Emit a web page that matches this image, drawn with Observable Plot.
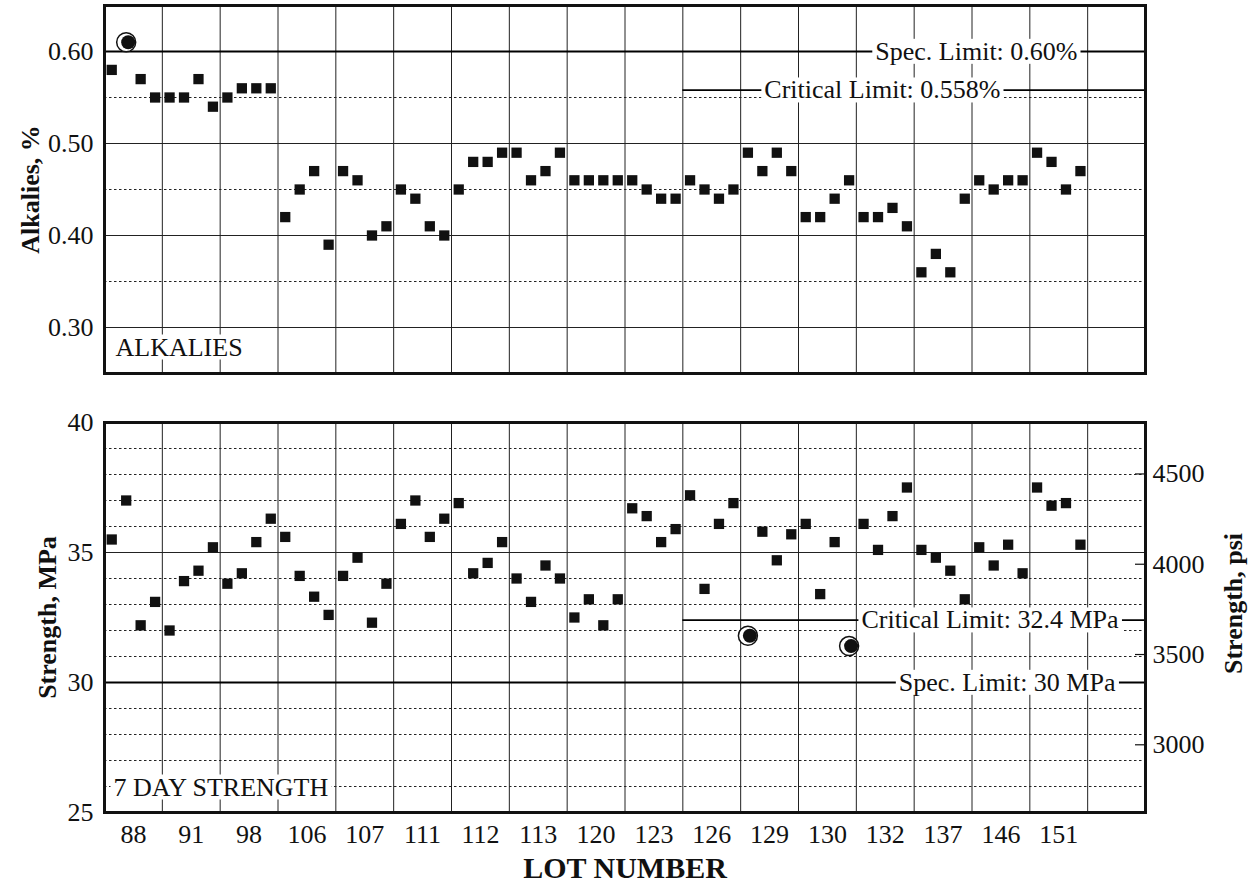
<!DOCTYPE html>
<html>
<head>
<meta charset="utf-8">
<script src="https://cdn.jsdelivr.net/npm/d3@7"></script>
<script src="https://cdn.jsdelivr.net/npm/@observablehq/plot@0.6"></script>
<style>
  body { margin: 0; background: #fff; }
  #chart { width: 1255px; height: 886px; position: relative; background: #fff; }
  #chart svg { display: block; }
</style>
</head>
<body>
<div id="chart"></div>
<script>
// ---------------- data ----------------
const lots = ["88","91","98","106","107","111","112","113","120","123","126","129","130","132","137","146","151"];
const samplesPerLot = 4;

// Alkalies, % (4 samples per lot, in lot order)
const alkalies = [
  0.58,0.61,0.57,0.55,  0.55,0.55,0.57,0.54,  0.55,0.56,0.56,0.56,  0.42,0.45,0.47,0.39,
  0.47,0.46,0.40,0.41,  0.45,0.44,0.41,0.40,  0.45,0.48,0.48,0.49,  0.49,0.46,0.47,0.49,
  0.46,0.46,0.46,0.46,  0.46,0.45,0.44,0.44,  0.46,0.45,0.44,0.45,  0.49,0.47,0.49,0.47,
  0.42,0.42,0.44,0.46,  0.42,0.42,0.43,0.41,  0.36,0.38,0.36,0.44,  0.46,0.45,0.46,0.46,
  0.49,0.48,0.45,0.47
];

// 7-day strength, MPa
const strength = [
  35.5,37.0,32.2,33.1,  32.0,33.9,34.3,35.2,  33.8,34.2,35.4,36.3,  35.6,34.1,33.3,32.6,
  34.1,34.8,32.3,33.8,  36.1,37.0,35.6,36.3,  36.9,34.2,34.6,35.4,  34.0,33.1,34.5,34.0,
  32.5,33.2,32.2,33.2,  36.7,36.4,35.4,35.9,  37.2,33.6,36.1,36.9,  31.8,35.8,34.7,35.7,
  36.1,33.4,35.4,31.4,  36.1,35.1,36.4,37.5,  35.1,34.8,34.3,33.2,  35.2,34.5,35.3,34.2,
  37.5,36.8,36.9,35.3
];

const alkaliSpec = 0.60;
const alkaliCritical = 0.558;
const strengthSpec = 30;
const strengthCritical = 32.4;
const criticalFromLot = "126";

const alkaliTicks = [0.30, 0.40, 0.50, 0.60];
const alkaliMinor = [0.35, 0.45, 0.55];
const strengthTicks = [25, 30, 35, 40];
const strengthMinor = [26, 27, 28, 29, 31, 32, 33, 34, 36, 37, 38, 39];
const psiTicks = [3000, 3500, 4000, 4500];
// secondary (psi) axis as printed: psi value at 25 MPa and psi per MPa
const psiAt25 = 2625, psiPerMPa = 144;

// ---------------- helpers ----------------
const FONT = "'Liberation Serif', 'Times New Roman', Times, serif";
const W = 1255;
const ML = 104, MR = 110;
const xDomain = [-0.5, (lots.length + 1) * samplesPerLot - 0.5];
const lotBounds = d3.range(lots.length + 2).map(k => k * samplesPerLot - 0.5);
const lotCenters = lots.map((_, k) => k * samplesPerLot + (samplesPerLot - 1) / 2);
const critStartIndex = lots.indexOf(criticalFromLot) * samplesPerLot;
const critX1 = critStartIndex - 0.5;

const alkData = alkalies.map((v, i) => ({i, v, flag: v > alkaliSpec}));
const strData = strength.map((v, i) => ({i, v, flag: i >= critStartIndex && v < strengthCritical}));
const mpaFromPsi = p => 25 + (p - psiAt25) / psiPerMPa;
const psiFromMpa = m => Math.round(psiAt25 + (m - 25) * psiPerMPa);

const boxedLabels = new Set();
function label(text) { boxedLabels.add(text); return text; }

const gridStroke = "#222";
const dotStroke = "#222";
const common = (extra) => [
  Plot.ruleX(lotBounds, {stroke: gridStroke, strokeWidth: 1}),
  ...extra
];

function pointMarks(data) {
  return [
    Plot.dot(data.filter(d => !d.flag), {x: "i", y: "v", symbol: "square", r: 5.8, fill: "#111", stroke: "none"}),
    Plot.dot(data.filter(d => d.flag), {x: "i", y: "v", r: 9.5, fill: "white", stroke: "#111", strokeWidth: 1.5}),
    Plot.dot(data.filter(d => d.flag), {x: "i", y: "v", r: 7, fill: "#111", stroke: "none", dx: 2})
  ];
}

// ---------------- top panel: alkalies ----------------
const topPlot = Plot.plot({
  width: W, height: 380,
  marginLeft: ML, marginRight: MR, marginTop: 5, marginBottom: 7,
  style: {fontFamily: FONT, fontSize: "26px", color: "#111", background: "#fff"},
  x: {domain: xDomain, axis: null},
  y: {domain: [0.25, 0.65], axis: null},
  marks: common([
    Plot.ruleY(alkaliTicks, {stroke: gridStroke, strokeWidth: 1.2}),
    Plot.ruleY(alkaliMinor, {stroke: dotStroke, strokeWidth: 1, strokeDasharray: "2.5,2.5"}),
    Plot.ruleY([alkaliSpec], {stroke: "#000", strokeWidth: 1.8}),
    Plot.ruleY([alkaliCritical], {x1: critX1, x2: xDomain[1], stroke: "#000", strokeWidth: 1.8}),
    Plot.text([{y: alkaliSpec, t: label(`Spec. Limit: ${alkaliSpec.toFixed(2)}%`)}],
      {y: "y", text: "t", frameAnchor: "right", textAnchor: "end", dx: -68, fill: "#111", fontSize: 26}),
    Plot.text([{y: alkaliCritical, t: label(`Critical Limit: ${alkaliCritical}%`)}],
      {y: "y", text: "t", frameAnchor: "right", textAnchor: "end", dx: -145, fill: "#111", fontSize: 26}),
    Plot.text([label("ALKALIES")], {frameAnchor: "bottom-left", textAnchor: "start", lineAnchor: "bottom", dx: 11, dy: -18, fill: "#111", fontSize: 26}),
    ...pointMarks(alkData),
    Plot.axisY({ticks: alkaliTicks, tickFormat: d => d.toFixed(2), tickSize: 0, tickPadding: 11, fontSize: 26, label: null}),
    Plot.text(["Alkalies, %"], {frameAnchor: "left", textAnchor: "middle", lineAnchor: "middle", rotate: -90, dx: -74, fontWeight: "bold", fontSize: 26, fill: "#111"}),
    Plot.frame({stroke: "#111", strokeWidth: 3})
  ])
});

// ---------------- bottom panel: strength ----------------
const bottomPlot = Plot.plot({
  width: W, height: 506,
  marginLeft: ML, marginRight: MR, marginTop: 42, marginBottom: 74,
  style: {fontFamily: FONT, fontSize: "26px", color: "#111", background: "#fff"},
  x: {domain: xDomain, axis: null},
  y: {domain: [25, 40], axis: null},
  marks: common([
    Plot.ruleY(strengthTicks, {stroke: gridStroke, strokeWidth: 1.2}),
    Plot.ruleY(strengthMinor, {stroke: dotStroke, strokeWidth: 1, strokeDasharray: "2.5,2.5"}),
    Plot.ruleY([strengthSpec], {stroke: "#000", strokeWidth: 1.8}),
    Plot.ruleY([strengthCritical], {x1: critX1, x2: xDomain[1], stroke: "#000", strokeWidth: 1.8}),
    Plot.text([{y: strengthCritical, t: label(`Critical Limit: ${strengthCritical} MPa`)}],
      {y: "y", text: "t", frameAnchor: "right", textAnchor: "end", dx: -27, fill: "#111", fontSize: 26}),
    Plot.text([{y: strengthSpec, t: label(`Spec. Limit: ${strengthSpec} MPa`)}],
      {y: "y", text: "t", frameAnchor: "right", textAnchor: "end", dx: -30, fill: "#111", fontSize: 26}),
    Plot.text([label("7 DAY STRENGTH")], {frameAnchor: "bottom-left", textAnchor: "start", lineAnchor: "bottom", dx: 9, dy: -17, fill: "#111", fontSize: 26}),
    Plot.ruleY(psiTicks.map(mpaFromPsi), {insetLeft: W - ML - MR - 10, stroke: "#111", strokeWidth: 1.2}),
    ...pointMarks(strData),
    Plot.axisY({ticks: strengthTicks, tickFormat: d => String(d), tickSize: 0, tickPadding: 11, fontSize: 26, label: null}),
    Plot.axisY({anchor: "right", ticks: psiTicks.map(mpaFromPsi), tickFormat: d => String(psiFromMpa(d)), tickSize: 0, tickPadding: 7, fontSize: 26, label: null}),
    Plot.axisX({ticks: lotCenters, tickFormat: d => lots[Math.round((d - (samplesPerLot - 1) / 2) / samplesPerLot)], tickSize: 0, tickPadding: 12, fontSize: 26, label: null}),
    Plot.text(["Strength, MPa"], {frameAnchor: "left", textAnchor: "middle", lineAnchor: "middle", rotate: -90, dx: -57, fontWeight: "bold", fontSize: 26, fill: "#111"}),
    Plot.text(["Strength, psi"], {frameAnchor: "right", textAnchor: "middle", lineAnchor: "middle", rotate: -90, dx: 88, dy: -14, fontWeight: "bold", fontSize: 26, fill: "#111"}),
    Plot.text(["LOT NUMBER"], {frameAnchor: "bottom", lineAnchor: "middle", dy: 56, fontWeight: "bold", fontSize: 30, fill: "#111"}),
    Plot.frame({stroke: "#111", strokeWidth: 3})
  ])
});

const chart = document.getElementById("chart");
chart.appendChild(topPlot);
chart.appendChild(bottomPlot);

// white boxes behind in-plot labels (they interrupt grid and limit lines)
function addTextBoxes(svg) {
  svg.querySelectorAll("text").forEach(t => {
    if (!boxedLabels.has(t.textContent)) return;
    const b = t.getBBox();
    const r = document.createElementNS("http://www.w3.org/2000/svg", "rect");
    r.setAttribute("x", b.x - 3);
    r.setAttribute("y", b.y + 2);
    r.setAttribute("width", b.width + 6);
    r.setAttribute("height", Math.max(0, b.height - 4));
    r.setAttribute("fill", "white");
    r.setAttribute("stroke", "none");
    const tr = t.getAttribute("transform");
    if (tr) r.setAttribute("transform", tr);
    t.parentNode.insertBefore(r, t);
  });
}
addTextBoxes(topPlot);
addTextBoxes(bottomPlot);
</script>
</body>
</html>
